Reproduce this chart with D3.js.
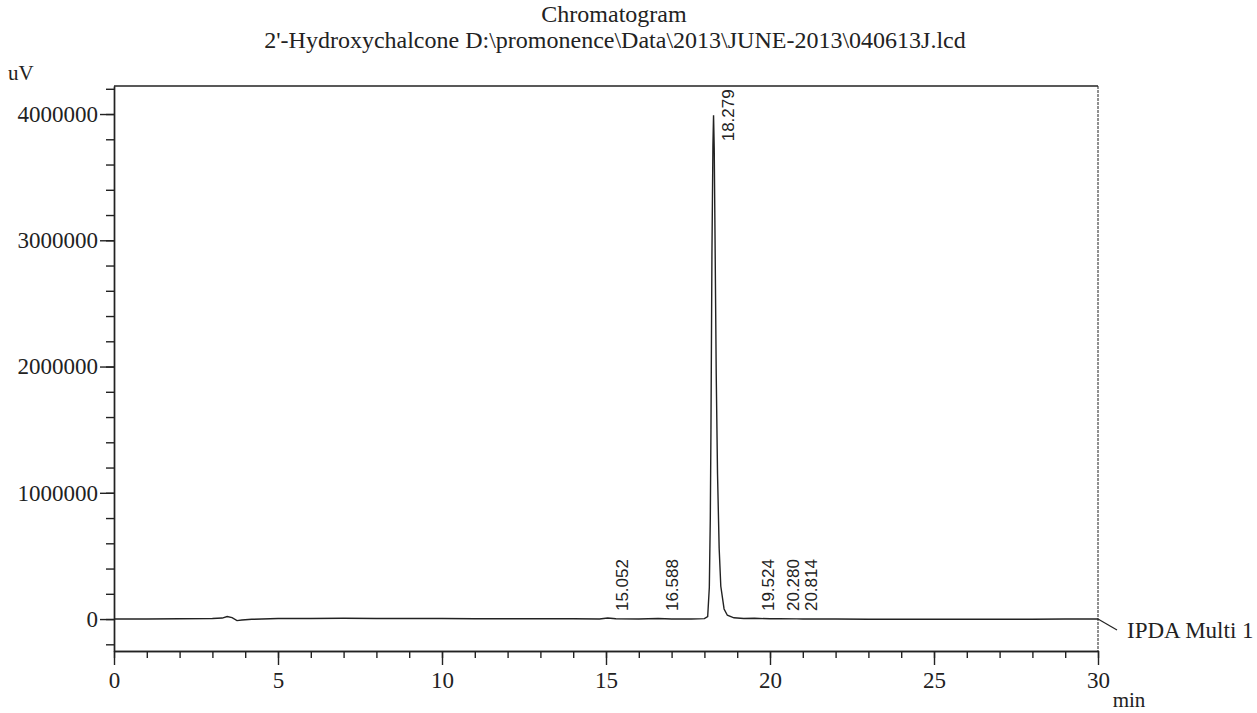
<!DOCTYPE html>
<html>
<head>
<meta charset="utf-8">
<script src="https://cdn.jsdelivr.net/npm/d3@7"></script>
<style>
  body { margin: 0; background: #fff; }
  text { fill: #222; }
</style>
</head>
<body>
<div id="chart"></div>
<script>
// trace: retention time (min) and signal (uV)
const times = [0, 1, 2, 3, 3.3, 3.45, 3.6, 3.75, 3.9, 4.2, 5, 6, 7, 8, 9, 10, 11, 12, 13, 14, 14.8, 15.052, 15.3, 16, 16.588, 17, 17.6, 18.0, 18.1, 18.15, 18.18, 18.2, 18.23, 18.26, 18.279, 18.3, 18.33, 18.36, 18.4, 18.45, 18.5, 18.6, 18.7, 18.9, 19.2, 19.524, 20, 20.28, 20.814, 21, 22, 23, 24, 25, 26, 27, 28, 29, 30];
const signal = [0, 0, 2000, 4000, 8000, 20000, 12000, -12000, -8000, -2000, 4000, 5000, 6000, 5000, 5000, 4000, 3000, 3000, 2000, 2000, 1000, 8000, 2000, 1000, 4000, 1000, 1000, 3000, 20000, 250000, 800000, 1500000, 2900000, 3750000, 3990000, 3720000, 2850000, 1950000, 1150000, 560000, 260000, 80000, 30000, 10000, 5000, 6000, 2000, 2500, 1500, 1000, 0, -1000, -1000, -2000, -2000, -1000, -1000, 0, 0];

// integrated peaks and their labels
const peakTimes = [15.052, 16.588, 18.279, 19.524, 20.280, 20.814];
const peakHeights = [8000, 4000, 3990000, 6000, 2500, 1500];
const peakLabels = ["15.052", "16.588", "18.279", "19.524", "20.280", "20.814"];

const yMajor = [0, 1000000, 2000000, 3000000, 4000000];
const yMinor = d3.range(-200000, 4200001, 200000);
const xMajor = [0, 5, 10, 15, 20, 25, 30];
const xMinor = d3.range(0, 31, 1);

const title = "Chromatogram";
const subtitle = "2'-Hydroxychalcone D:\\promonence\\Data\\2013\\JUNE-2013\\040613J.lcd";

const W = 1257, H = 713;
const margin = {top: 86, right: 159, bottom: 62, left: 114};
const width = W - margin.left - margin.right;
const height = H - margin.top - margin.bottom;

const root = d3.select("#chart").append("svg")
    .attr("width", W)
    .attr("height", H);

const svg = root.append("g")
    .attr("transform", `translate(${margin.left},${margin.top})`);

const x = d3.scaleLinear().domain([0, 30]).range([0, width]);
const y = d3.scaleLinear().domain([-253000, 4222000]).range([height, 0]);

const ink = "#222";
const serif = "'Liberation Serif', 'Times New Roman', serif";

// titles
root.append("text")
    .attr("x", 614).attr("y", 22)
    .attr("text-anchor", "middle")
    .style("font-family", serif).style("font-size", "24px")
    .text(title);
root.append("text")
    .attr("x", 615).attr("y", 48)
    .attr("text-anchor", "middle")
    .style("font-family", serif).style("font-size", "24px")
    .text(subtitle);

// frame: top and right sides
svg.append("line")
    .attr("x1", 0).attr("x2", width).attr("y1", 0).attr("y2", 0)
    .attr("stroke", ink).attr("stroke-width", 1.6);
svg.append("line")
    .attr("x1", width).attr("x2", width).attr("y1", 0).attr("y2", height)
    .attr("stroke", ink).attr("stroke-width", 1).attr("stroke-dasharray", "3,1");

// y axis
const yMinorAxis = svg.append("g")
    .call(d3.axisLeft(y).tickValues(yMinor).tickSize(8).tickSizeOuter(0).tickFormat(""));
const yAxis = svg.append("g")
    .call(d3.axisLeft(y).tickValues(yMajor).tickSize(14).tickSizeOuter(0)
        .tickPadding(2).tickFormat(d3.format("d")));

// x axis
const xMinorAxis = svg.append("g")
    .attr("transform", `translate(0,${height})`)
    .call(d3.axisBottom(x).tickValues(xMinor).tickSize(7).tickSizeOuter(0).tickFormat(""));
const xAxis = svg.append("g")
    .attr("transform", `translate(0,${height})`)
    .call(d3.axisBottom(x).tickValues(xMajor).tickSize(14).tickSizeOuter(0).tickPadding(7));

[yMinorAxis, yAxis, xMinorAxis, xAxis].forEach(g => {
    g.selectAll("path, line").attr("stroke", ink).attr("stroke-width", 1.4);
    g.selectAll("text").style("font-family", serif).style("font-size", "23px").attr("fill", ink);
});

// axis units
root.append("text")
    .attr("x", 8).attr("y", 80)
    .style("font-family", serif).style("font-size", "21px")
    .text("uV");
root.append("text")
    .attr("x", margin.left + width + 31).attr("y", 707)
    .attr("text-anchor", "middle")
    .style("font-family", serif).style("font-size", "21px")
    .text("min");

// the trace
const trace = times.map((t, i) => ({t: t, v: signal[i]}));
svg.append("path")
    .datum(trace)
    .attr("fill", "none")
    .attr("stroke", ink)
    .attr("stroke-width", 1.4)
    .attr("d", d3.line().x(d => x(d.t)).y(d => y(d.v)));

// peak labels, rotated, kept clear of the baseline
const labelHalf = 26;
peakTimes.forEach((t, i) => {
    const start = Math.min(y(peakHeights[i]) + labelHalf, y(0) - 8);
    svg.append("text")
        .attr("transform", `translate(${x(t) + 20},${start}) rotate(-90)`)
        .attr("text-anchor", "start")
        .style("font-family", "'Liberation Sans', Arial, sans-serif")
        .style("font-size", "17px")
        .text(peakLabels[i]);
});

// channel label with leader
svg.append("line")
    .attr("x1", width).attr("y1", y(0))
    .attr("x2", width + 19).attr("y2", y(0) + 11)
    .attr("stroke", ink).attr("stroke-width", 1.2);
svg.append("text")
    .attr("x", width + 29).attr("y", y(0) + 19)
    .style("font-family", serif).style("font-size", "23px")
    .text("IPDA Multi 1");
</script>
</body>
</html>
